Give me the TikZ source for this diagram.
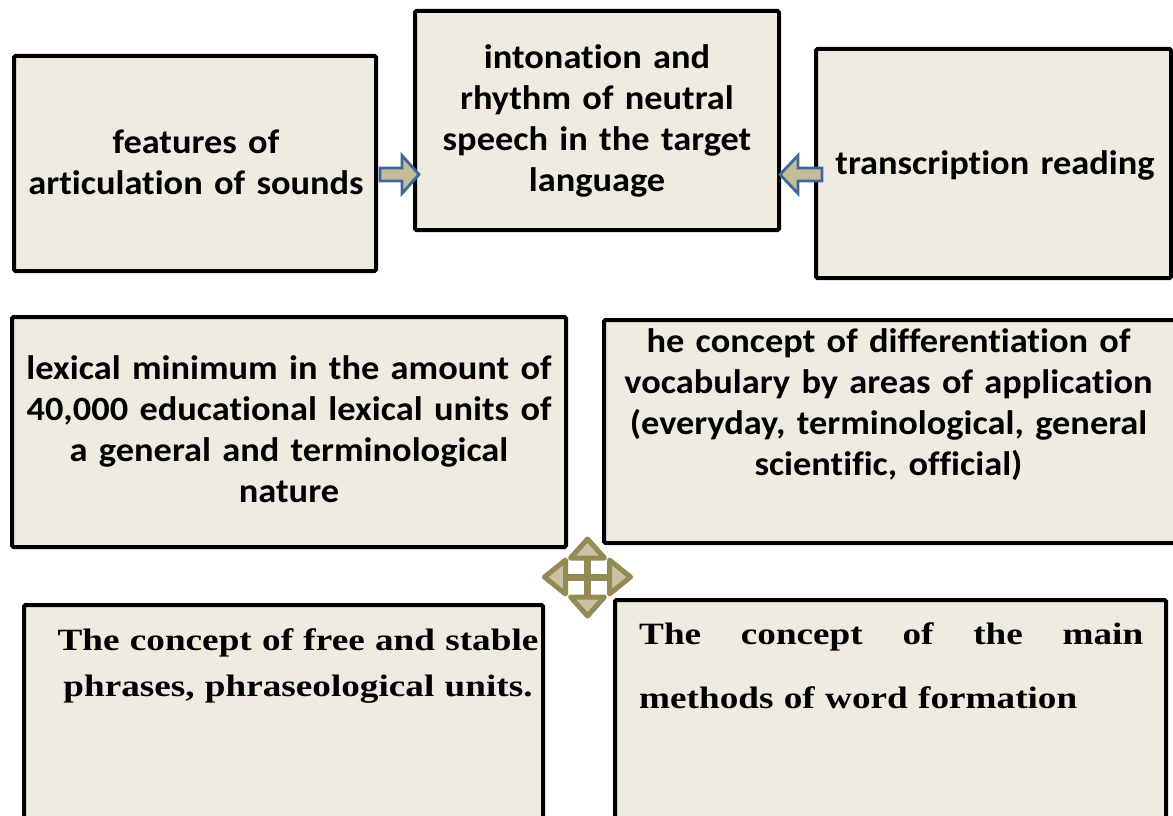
\documentclass[tikz,border=0pt]{standalone}
\usepackage{fontspec}
\setmainfont{Carlito}
\newfontfamily\calb[FakeStretch=1.07, Ligatures=CommonOff]{Carlito}
\newfontfamily\tnr[FakeStretch=1.2, Ligatures=CommonOff]{Liberation Serif}
\usetikzlibrary{calc}
\definecolor{boxfill}{HTML}{EEECE1}
\definecolor{arrblue}{HTML}{41679A}
\definecolor{arrtan}{HTML}{C4BD97}
\definecolor{olive}{HTML}{948A54}
\definecolor{olivefill}{HTML}{C9C3A3}
\tikzset{
  box/.style={draw=black, line width=4pt, fill=boxfill, rounded corners=1.5pt, inner sep=0pt},
  cal/.style={font=\calb\bfseries\fontsize{34}{41}\selectfont, text width=600pt, align=center, anchor=base, inner sep=0pt},
  tms/.style={font=\tnr\bfseries\fontsize{31}{46}\selectfont, text width=600pt, align=center, anchor=base, inner sep=0pt},
  blockarrow/.style={draw=arrblue, line width=2.8pt, fill=arrtan, line join=miter},
  movehead/.style={draw=olive, line width=5pt, fill=olivefill, line join=round},
  moveshaft/.style={draw=olive, line width=7pt}
}
\begin{document}
\begin{tikzpicture}[x=1pt,y=-1pt]
\useasboundingbox (0,0) rectangle (1173,816);
% boxes
\node[box, minimum width=362pt, minimum height=215pt] (A) at (195,163.5) {};
\node[box, minimum width=364pt, minimum height=219pt] (B) at (597,120.5) {};
\node[box, minimum width=355pt, minimum height=229pt] (C) at (993.5,163.5) {};
\node[box, minimum width=554pt, minimum height=230pt] (D) at (289,432) {};
\node[box, minimum width=581pt, minimum height=223pt] (E) at (894.5,431.5) {};
\node[box, minimum width=519pt, minimum height=235pt] (F) at (283.5,722.5) {};
\node[box, minimum width=551pt, minimum height=240pt] (G) at (890.5,720) {};
% texts
\node[cal] (tA) at (196,153) {features of\\articulation of sounds};
\node[cal] (tB) at (597,69) {intonation and\\rhythm of neutral\\speech in the target\\language};
\node[cal] (tC) at (995,174) {transcription reading};
\node[cal] (tD) at (289,379) {lexical minimum in the amount of\\40,000 educational lexical units of\\a general and terminological\\nature};
\node[cal] (tE) at (888.5,352) {he concept of differentiation of\\vocabulary by areas of application\\(everyday, terminological, general\\scientific, official)};
\node[tms] (tF) at (298,650) {The concept of free and stable\\phrases, phraseological units.};
\node[tms, text width=504pt, align=left, anchor=base west] (tG) at (639,644) {\hbox to 504pt{The\hfill concept\hfill of\hfill the\hfill main}\\[18pt]methods of word formation};
% block arrows
\draw[blockarrow] ($(A.east)+(2,11)$) -- ++(0,-6.5) -- ++(22,0) -- ++(0,-12.5) -- ++(17,19) -- ++(-17,19) -- ++(0,-12.5) -- ++(-22,0) -- cycle;
\draw[blockarrow] ($(C.west)+(8,11)$) -- ++(0,-6.5) -- ++(-24,0) -- ++(0,-12.5) -- ++(-18,19) -- ++(18,19) -- ++(0,-12.5) -- ++(24,0) -- cycle;
% four-way arrow
\coordinate (m) at (587.5,577);
\draw[moveshaft] ($(m)+(-24,0)$) -- ($(m)+(24,0)$);
\draw[moveshaft] ($(m)+(0,-21)$) -- ($(m)+(0,22)$);
\draw[movehead] ($(m)+(0,-38)$) -- ($(m)+(17,-19)$) -- ($(m)+(-17,-19)$) -- cycle;
\draw[movehead] ($(m)+(0,39)$) -- ($(m)+(17,20)$) -- ($(m)+(-17,20)$) -- cycle;
\draw[movehead] ($(m)+(-43,0)$) -- ($(m)+(-22,-17)$) -- ($(m)+(-22,17)$) -- cycle;
\draw[movehead] ($(m)+(43,0)$) -- ($(m)+(22,-17)$) -- ($(m)+(22,17)$) -- cycle;
\end{tikzpicture}
\end{document}
